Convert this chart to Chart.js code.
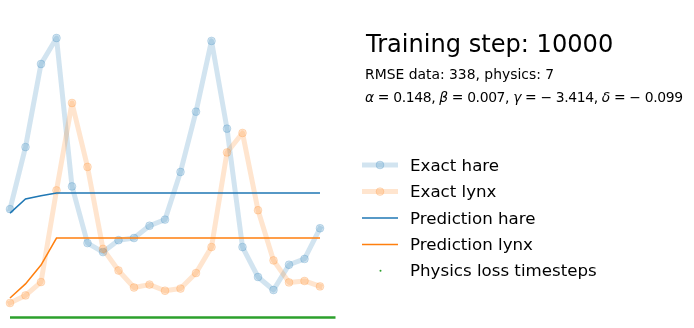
<!DOCTYPE html>
<html>
<head>
<meta charset="utf-8">
<script src="https://cdn.jsdelivr.net/npm/chart.js@4/dist/chart.umd.min.js"></script>
<style>
  html, body { margin: 0; padding: 0; background: #fff; }
  #wrap { position: relative; width: 694px; height: 328px; overflow: hidden; }
  #plot { position: absolute; left: 0; top: 0; }
  #side { position: absolute; left: 0; top: 0; pointer-events: none; }
  #side text { font-family: "DejaVu Sans", sans-serif; fill: #000; }
</style>
</head>
<body>
<div id="wrap">
  <canvas id="plot" width="345" height="328"></canvas>
  <svg id="side" width="694" height="328">
    <text x="366" y="51.5" font-size="24.1">Training step: 10000</text>
    <text x="365" y="79" font-size="13.9">RMSE data: 338, physics: 7</text>
    <text x="365" y="102" font-size="13.9" textLength="318" lengthAdjust="spacing"><tspan font-style="italic">α</tspan> = 0.148, <tspan font-style="italic">β</tspan> = 0.007, <tspan font-style="italic">γ</tspan> = − 3.414, <tspan font-style="italic">δ</tspan> = − 0.099</text>

    <!-- legend -->
    <line x1="362" x2="398" y1="165" y2="165" stroke="rgba(31,119,180,0.2)" stroke-width="5"/>
    <circle cx="380" cy="165" r="3.9" fill="rgba(31,119,180,0.2)" stroke="rgba(31,119,180,0.2)" stroke-width="1"/>
    <text x="410" y="170.5" font-size="16.67">Exact hare</text>

    <line x1="362" x2="398" y1="191.6" y2="191.6" stroke="rgba(255,127,14,0.2)" stroke-width="5"/>
    <circle cx="380" cy="191.6" r="3.9" fill="rgba(255,127,14,0.2)" stroke="rgba(255,127,14,0.2)" stroke-width="1"/>
    <text x="410" y="197.1" font-size="16.67">Exact lynx</text>

    <line x1="362" x2="398" y1="218" y2="218" stroke="#1f77b4" stroke-width="1.5"/>
    <text x="410" y="223.5" font-size="16.67">Prediction hare</text>

    <line x1="362" x2="398" y1="244.4" y2="244.4" stroke="#ff7f0e" stroke-width="1.5"/>
    <text x="410" y="249.9" font-size="16.67">Prediction lynx</text>

    <circle cx="380.5" cy="270.8" r="1" fill="#2ca02c"/>
    <text x="410" y="276.3" font-size="16.67">Physics loss timesteps</text>
  </svg>
</div>
<script>
// Hudson Bay pelts, thousands
const years = [1900, 1901, 1902, 1903, 1904, 1905, 1906, 1907, 1908, 1909, 1910,
  1911, 1912, 1913, 1914, 1915, 1916, 1917, 1918, 1919, 1920];
const hare = [30, 47.2, 70.2, 77.4, 36.3, 20.6, 18.1, 21.4, 22, 25.4, 27.1,
  40.3, 57, 76.6, 52.3, 19.5, 11.2, 7.6, 14.6, 16.2, 24.7];
const lynx = [4, 6.1, 9.8, 35.2, 59.4, 41.7, 19, 13, 8.3, 9.1, 7.4,
  8, 12.3, 19.5, 45.7, 51.1, 29.7, 15.8, 9.7, 10.1, 8.6];

// model output at step 10000
const predHare = [28.9, 32.8, 33.7, 34.5, 34.5, 34.5, 34.5, 34.5, 34.5, 34.5, 34.5,
  34.5, 34.5, 34.5, 34.5, 34.5, 34.5, 34.5, 34.5, 34.5, 34.5];
const predLynx = [5.4, 9.3, 14.5, 22.0, 22.0, 22.0, 22.0, 22.0, 22.0, 22.0, 22.0,
  22.0, 22.0, 22.0, 22.0, 22.0, 22.0, 22.0, 22.0, 22.0, 22.0];

// collocation points for the physics loss
const physicsT = [1900, 1901, 1902, 1903, 1904, 1905, 1906, 1907, 1908, 1909, 1910,
  1911, 1912, 1913, 1914, 1915, 1916, 1917, 1918, 1919, 1920, 1921];
const physicsY = [0, 0, 0, 0, 0, 0, 0, 0, 0, 0, 0, 0, 0, 0, 0, 0, 0, 0, 0, 0, 0, 0];

const toXY = (xs, ys) => xs.map((x, i) => ({ x, y: ys[i] }));

const faded = (rgb) => ({
  borderColor: `rgba(${rgb},0.2)`,
  borderWidth: 5,
  borderJoinStyle: "round",
  borderCapStyle: "square",
  pointRadius: 3.9,
  pointBorderWidth: 1,
  pointBackgroundColor: `rgba(${rgb},0.2)`,
  pointBorderColor: `rgba(${rgb},0.2)`,
});

new Chart(document.getElementById("plot"), {
  type: "line",
  data: {
    datasets: [
      { label: "Exact hare", data: toXY(years, hare), order: 5, ...faded("31,119,180") },
      { label: "Exact lynx", data: toXY(years, lynx), order: 4, ...faded("255,127,14") },
      {
        label: "Prediction hare", data: toXY(years, predHare), order: 3,
        borderColor: "#1f77b4", borderWidth: 1.5, pointRadius: 0,
      },
      {
        label: "Prediction lynx", data: toXY(years, predLynx), order: 2,
        borderColor: "#ff7f0e", borderWidth: 1.5, pointRadius: 0,
      },
      {
        label: "Physics loss timesteps", data: toXY(physicsT, physicsY), order: 1,
        borderColor: "#2ca02c", borderWidth: 2.5,
        pointRadius: 0,
      },
    ],
  },
  options: {
    responsive: false,
    animation: false,
    layout: { padding: 0, autoPadding: false },
    plugins: { legend: { display: false }, tooltip: { enabled: false } },
    scales: {
      x: { type: "linear", min: 1899.355, max: 1921.613, display: false },
      y: { min: -2.925, max: 87.93, display: false },
    },
  },
});
</script>
</body>
</html>
